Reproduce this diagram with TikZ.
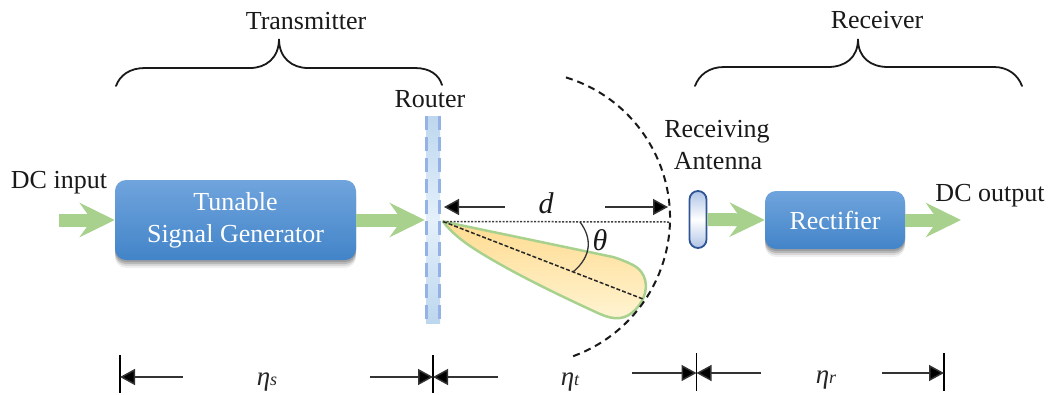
\documentclass[tikz,border=0pt]{standalone}
\usepackage{fontspec}
\setmainfont{Liberation Serif}
\usetikzlibrary{arrows.meta,shadows,calc}
\definecolor{grn}{HTML}{A9D18E}
\definecolor{boxtop}{HTML}{70A4DD}
\definecolor{boxbot}{HTML}{4284C8}
\definecolor{barblue}{HTML}{BDD7EE}
\definecolor{barmid}{HTML}{E4F0FB}
\definecolor{bardash}{HTML}{94B2E6}
\definecolor{antedge}{HTML}{2F5597}
\definecolor{antfill}{HTML}{AFC4E6}
\definecolor{beamtop}{HTML}{FFDB90}
\definecolor{beambot}{HTML}{FFF4D2}
\tikzset{
  x=1pt,y=-1pt,
  txt/.style={anchor=base,inner sep=0pt,font=\fontsize{26}{32}\selectfont,text=black!90},
  blockbox/.style={rounded corners=11pt,top color=boxtop,bottom color=boxbot,inner sep=0pt,text=white,align=center,
    font=\fontsize{26}{32}\selectfont,
    drop shadow={shadow xshift=0pt,shadow yshift=-2pt,opacity=.14,fill=black},
    drop shadow={shadow xshift=0pt,shadow yshift=-4pt,opacity=.14,fill=black},
    drop shadow={shadow xshift=0pt,shadow yshift=-6pt,opacity=.10,fill=black},
    drop shadow={shadow xshift=0pt,shadow yshift=-8pt,opacity=.06,fill=black}},
  greenarrow/.style={draw=grn,line width=13pt,-{Stealth[length=35pt,width=34pt,inset=12pt,fill=grn]}},
  dimarrow/.style={draw=black!80,line width=1.5pt,-{Stealth[length=15pt,width=16pt,inset=0pt,fill=black]}},
  tick/.style={draw=black,line width=1.5pt},
  brace/.style={draw=black!90,line width=1.8pt,line cap=round},
  routerdash/.style={draw=bardash,line width=3.5pt,dash pattern=on 14pt off 7pt},
  etalab/.style={anchor=base,inner sep=0pt,font=\fontsize{27}{28}\selectfont\itshape,text=black!85},
}
\newcommand{\subsz}[1]{{\fontsize{18}{18}\selectfont #1}}
\begin{document}
\begin{tikzpicture}
\useasboundingbox (0,0) rectangle (1052,394);
% blocks
\node[blockbox,minimum width=241pt,minimum height=80pt] (gen) at (235.5,220) {Tunable\\Signal Generator};
\node[blockbox,minimum width=140pt,minimum height=58pt] (rect) at (835,220) {Rectifier};
% router
\node[minimum width=14pt,minimum height=207pt,inner sep=0pt,top color=barblue,bottom color=barblue,middle color=barmid] (router) at (433,219.5) {};
\draw[routerdash] ([xshift=-6.5pt]router.north) -- ([xshift=-6.5pt]router.south);
\draw[routerdash] ([xshift=6.5pt]router.north) -- ([xshift=6.5pt]router.south);
% antenna
\node[draw=antedge,line width=1.8pt,rounded corners=8.5pt,minimum width=17pt,minimum height=57pt,inner sep=0pt,
  top color=antfill,bottom color=antfill,middle color=white] (ant) at (698,219.5) {};
% beam
\coordinate (apex) at (443,221.5);
\coordinate (beamend) at (643,299);
\coordinate (sphere) at (669,222);
\shade[top color=beamtop,bottom color=beambot,draw=grn,line width=2.5pt,line join=round]
  (apex) .. controls (451,232) and (461,240) .. (473,248)
  .. controls (510,272) and (565,298) .. (600,314)
  .. controls (607,317) and (614,319) .. (620,318)
  .. controls (631,317) and (642,305) .. (645,293)
  .. controls (648,281) and (643,270) .. (633,265)
  .. controls (627,262) and (620,259) .. (613,257)
  -- (apex) -- cycle;
\draw[line width=1.5pt,dash pattern=on 4pt off 2pt,black!85] (apex) -- (beamend);
\draw[line width=1.5pt,dash pattern=on 2pt off 1.5pt,black!75] (apex) -- (sphere);
% theta arc
\coordinate (thA) at (580,222);
\coordinate (thB) at (573,272);
\draw[line width=1.3pt,black!80] (thA) .. controls (592,238) and (592,256) .. (thB);
% spherical front
\coordinate (front) at (523,218);
\draw[line width=2pt,dash pattern=on 7pt off 5pt,black!90] ($(front)+(73:147pt)$) arc[start angle=73,end angle=-71,radius=147pt];
% green arrows
\coordinate (dcin) at (59,220);
\coordinate (dcout) at (961,220);
\draw[greenarrow] (dcin) -- (gen.west);
\draw[greenarrow] (gen.east) -- ([xshift=-1pt]router.west|-gen.east);
\draw[greenarrow] (ant.east) -- (rect.west);
\draw[greenarrow] (rect.east) -- (dcout);
% d arrows
\coordinate (dL) at (505,207);
\coordinate (dLe) at (444,207);
\coordinate (dR) at (605,207);
\coordinate (dRe) at (668,207);
\draw[dimarrow] (dL) -- (dLe);
\draw[dimarrow] (dR) -- (dRe);
% braces
\draw[brace] (116,86) .. controls (120,75) and (130,68) .. (145,68) -- (250,68)
  .. controls (266,68) and (279,58) .. (279,39) .. controls (279,58) and (292,68) .. (308,68)
  -- (415,68) .. controls (430,68) and (439,75) .. (442,85);
\draw[brace] (695,86) .. controls (699,75) and (709,67) .. (724,67) -- (828,67)
  .. controls (845,67) and (858,58) .. (858,39) .. controls (858,58) and (871,67) .. (888,67)
  -- (994,67) .. controls (1008,67) and (1018,75) .. (1022,86);
% dimension ticks
\coordinate (t1a) at (120,355); \coordinate (t1b) at (120,393);
\coordinate (t2a) at (433,355); \coordinate (t2b) at (433,393);
\coordinate (t3a) at (696.5,353); \coordinate (t3b) at (696.5,391);
\coordinate (t4a) at (944,353); \coordinate (t4b) at (944,391);
\draw[tick] (t1a) -- (t1b);
\draw[tick] (t2a) -- (t2b);
\draw[tick] (t3a) -- (t3b);
\draw[tick] (t4a) -- (t4b);
\coordinate (a1) at (183,377); \coordinate (a2) at (370,377);
\coordinate (a3) at (498,377); \coordinate (a4) at (632,373);
\coordinate (a5) at (761,373); \coordinate (a6) at (882,373);
\draw[dimarrow] (a1) -- (t1a|-a1);
\draw[dimarrow] (a2) -- (t2a|-a2);
\draw[dimarrow] (a3) -- (t2a|-a3);
\draw[dimarrow] (a4) -- (t3a|-a4);
\draw[dimarrow] (a5) -- (t3a|-a5);
\draw[dimarrow] (a6) -- (t4a|-a6);
% labels
\node[txt] (ltx) at (306,29) {Transmitter};
\node[txt] (lrx) at (877,28) {Receiver};
\node[txt] (lrt) at (430,107) {Router};
\node[txt] (ldi) at (59,188) {DC input};
\node[txt] (lra) at (717,137) {Receiving};
\node[txt] (lan) at (718,169) {Antenna};
\node[txt] (ldo) at (990,201) {DC output};
\node[txt,font=\fontsize{30}{32}\selectfont\itshape] (ld) at (546,213) {d};
\node[txt,font=\fontsize{30}{32}\selectfont\itshape] (lth) at (600,250) {θ};
\node[etalab] (e1) at (267,385) {η\subsz{s}};
\node[etalab] (e2) at (570,385) {η\subsz{t}};
\node[etalab] (e3) at (826,383) {η\subsz{r}};
\end{tikzpicture}
\end{document}
